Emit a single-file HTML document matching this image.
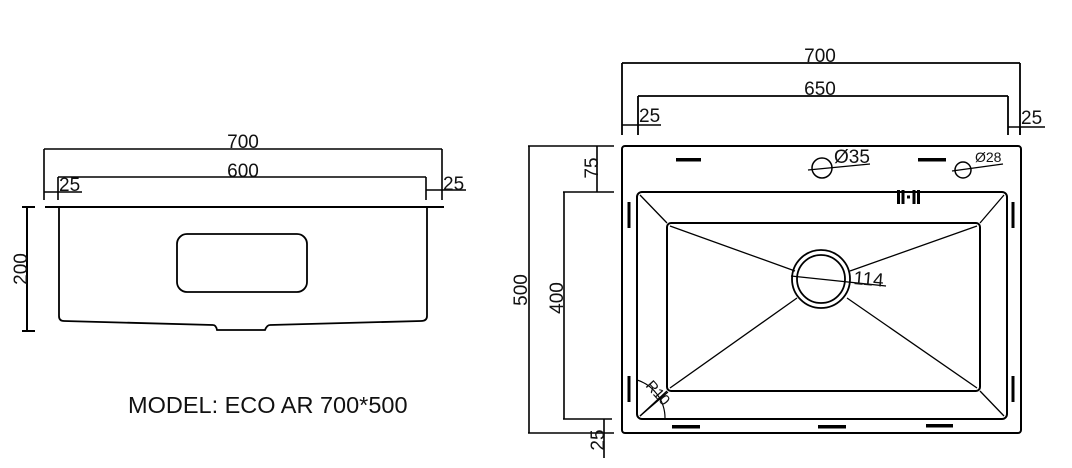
<!DOCTYPE html>
<html><head><meta charset="utf-8"><style>
html,body{margin:0;padding:0;background:#fff}
svg{display:block}
text{font-family:"Liberation Sans",sans-serif;fill:#111}
</style></head><body>
<svg width="1072" height="468" viewBox="0 0 1072 468" xmlns="http://www.w3.org/2000/svg">
<g stroke="#000" fill="none" stroke-width="1.6">
<path d="M44 149H442M44 149V200M442 149V200"/>
<path d="M58 177H426M58 177V200M426 177V200"/>
<path d="M44 192H82M426 190H466"/>
<path d="M45 207H444" stroke-width="2"/>
<path d="M59 207V316Q59 321 64 321L213 325Q216 325 217 330H265Q267 325 270 325L421 321Q427 321 427 316V207" stroke-width="1.8"/>
<rect x="177" y="234" width="130" height="58" rx="10" stroke-width="1.8"/>
<path d="M27 207V331M22 207H35M22 331H35" stroke-width="2"/>
<path d="M622 63H1020M622 63V135M1020 63V135" stroke-width="1.8"/>
<path d="M638 96H1008M638 96V135M1008 96V135" stroke-width="1.8"/>
<path d="M622 125H661M1008 127H1045M1020 127V135"/>
<path d="M528 146H614M529 146V433M528 433H614"/>
<path d="M597 146V192M563 192H614M564 192V419M563 419H612M604 419V458"/>
<rect x="622" y="146" width="399" height="287" rx="3" stroke-width="2"/>
<rect x="637" y="192" width="370" height="227" rx="5" stroke-width="2"/>
<rect x="667" y="223" width="313" height="168" rx="4" stroke-width="2"/>
<path d="M640 195L667 223M1004 195L980 223M640 416L667 391M1004 416L980 391" stroke-width="1.3"/>
<path d="M670 226L795 271M977 226L850 271M670 388L797 298M977 388L847 298" stroke-width="1.3"/>
<circle cx="821" cy="279" r="29" stroke-width="1.8"/>
<circle cx="821" cy="279" r="24" stroke-width="1.8"/>
<path d="M791 276L886 286" stroke-width="1.3"/>
<circle cx="822" cy="168" r="10" stroke-width="1.5"/>
<path d="M808 170L870 164" stroke-width="1.2"/>
<circle cx="963" cy="170" r="8" stroke-width="1.5"/>
<path d="M952 171L1003 164" stroke-width="1.2"/>
<path d="M637 380A40 40 0 0 1 665 419" stroke-width="1.2"/>
<path d="M640 416L668 392" stroke-width="1.2"/>
</g>
<g fill="#000">
<rect x="676" y="158" width="25" height="3.5"/>
<rect x="918" y="158" width="28" height="3.5"/>
<rect x="672" y="425" width="28" height="3.5"/>
<rect x="818" y="425" width="28" height="3.5"/>
<rect x="926" y="424" width="27" height="3.5"/>
<rect x="627.5" y="202" width="3" height="26"/>
<rect x="627.5" y="376" width="3" height="26"/>
<rect x="1011.5" y="202" width="3" height="26"/>
<rect x="1011.5" y="376" width="3" height="26"/>
<rect x="897" y="190" width="3" height="14"/><rect x="901.5" y="190" width="3" height="14"/>
<rect x="907" y="195.5" width="3" height="3"/>
<rect x="912.5" y="190" width="3" height="14"/><rect x="917" y="190" width="3" height="14"/>
</g>
<g font-size="19">
<text x="243" y="148" text-anchor="middle">700</text>
<text x="243" y="177" text-anchor="middle">600</text>
<text x="59" y="191">25</text>
<text x="443" y="190">25</text>
<text x="34" y="269" text-anchor="middle" transform="rotate(-90 34 269)" dy="-7">200</text>
<text x="128" y="413" font-size="23.5">MODEL: ECO AR 700*500</text>
<text x="820" y="62" text-anchor="middle">700</text>
<text x="820" y="95" text-anchor="middle">650</text>
<text x="639" y="122">25</text>
<text x="1021" y="124">25</text>
<text x="527" y="290" text-anchor="middle" transform="rotate(-90 527 290)">500</text>
<text x="592" y="168" text-anchor="middle" transform="rotate(-90 592 168)" dy="6">75</text>
<text x="563" y="298" text-anchor="middle" transform="rotate(-90 563 298)">400</text>
<text x="604" y="440" text-anchor="middle" transform="rotate(-90 604 440)">25</text>
<text x="834" y="163" font-size="19">Ø35</text>
<text x="975" y="162" font-size="14">Ø28</text>
<text x="853" y="284" transform="rotate(5 853 284)">114</text>
<text x="645" y="386" font-size="15" transform="rotate(48 645 386)">R10</text>
</g>
</svg>
</body></html>
